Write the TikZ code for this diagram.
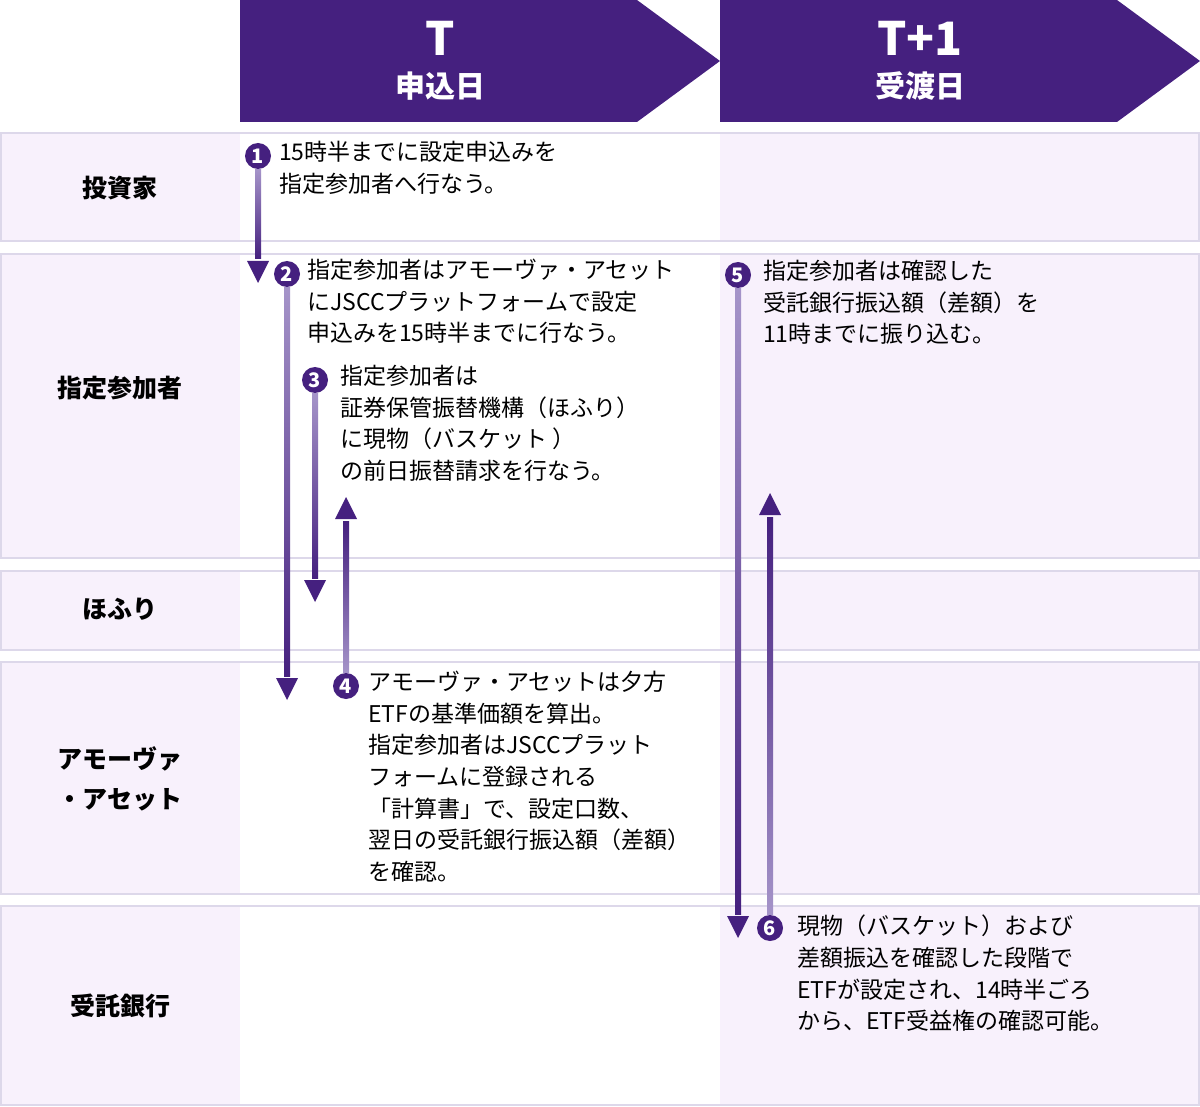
\documentclass[tikz,border=0pt]{standalone}
\usepackage{fontspec}
\setmainfont{Noto Sans CJK JP}
\usetikzlibrary{calc}
\definecolor{dp}{HTML}{45207F}
\definecolor{lp}{HTML}{A594C9}
\definecolor{bg}{HTML}{F8F1FC}
\definecolor{ln}{HTML}{DDD8EA}
\tikzset{
 hdr/.style={fill=dp,draw=none},
 lane/.style={draw=ln,line width=2pt},
 num/.style={circle,fill=dp,text=white,inner sep=0pt,minimum size=26pt,font=\fontsize{20}{20}\selectfont\bfseries},
 txt/.style={anchor=north west,inner sep=0pt,align=left,font=\fontsize{23}{31.6}\selectfont},
 lbl/.style={align=center,font=\fontsize{25}{40}\selectfont\bfseries},
 head/.style={fill=dp,draw=none}
}
\newcommand{\gdown}[2]{%
 \shade[top color=lp,bottom color=dp] ($(#1)+(-3,0)$) rectangle ($(#2)+(3,-24)$);
 \fill[dp] ($(#2)+(-11,-22)$) -- ($(#2)+(11,-22)$) -- (#2) -- cycle;}
\newcommand{\gup}[2]{%
 \shade[top color=dp,bottom color=lp] ($(#2)+(-3,24)$) rectangle ($(#1)+(3,0)$);
 \fill[dp] ($(#2)+(-11,22)$) -- ($(#2)+(11,22)$) -- (#2) -- cycle;}
\begin{document}
\begin{tikzpicture}[x=1pt,y=-1pt]
\useasboundingbox (0,0) rectangle (1200,1107);
% headers
\fill[hdr] (240,0) -- (637,0) -- (720,61) -- (637,122) -- (240,122) -- cycle;
\fill[hdr] (720,0) -- (1117,0) -- (1200,61) -- (1117,122) -- (720,122) -- cycle;
\node[text=white,font=\fontsize{46}{46}\selectfont\bfseries] (hT) at (440,38) {T};
\node[text=white,font=\fontsize{30}{30}\selectfont\bfseries] (hTd) at (440,86) {申込日};
\node[text=white,font=\fontsize{46}{46}\selectfont\bfseries] (hT1) at (920,38) {T+1};
\node[text=white,font=\fontsize{30}{30}\selectfont\bfseries] (hT1d) at (920,86) {受渡日};
% lanes
\foreach \a/\b in {133/241,254/558,571/650,662/894,906/1105}{
 \fill[bg] (1,\a) rectangle (240,\b);
 \fill[white] (240,\a) rectangle (720,\b);
 \fill[bg] (720,\a) rectangle (1199,\b);
 \draw[lane] (1,\a) rectangle (1199,\b);
}
\node[lbl] (L1) at (120,188) {投資家};
\node[lbl] (L2) at (120,388) {指定参加者};
\node[lbl] (L3) at (120,609) {ほふり};
\node[lbl] (L4) at (120,779) {アモーヴァ\\・アセット};
\node[lbl] (L5) at (120,1006) {受託銀行};
% numbers
\node[num] (n1) at (258,156) {1};
\node[num] (n2) at (287,274) {2};
\node[num] (n3) at (315,380) {3};
\node[num] (n4) at (346,686) {4};
\node[num] (n5) at (738,275) {5};
\node[num] (n6) at (770,928) {6};
\coordinate (e1) at (258,283);
\coordinate (e2) at (287,700);
\coordinate (e3) at (315,602);
\coordinate (e4) at (346,497);
\coordinate (e5) at (738,938);
\coordinate (e6) at (770,493);
\gdown{n1.south}{e1}
\gdown{n2.south}{e2}
\gdown{n3.south}{e3}
\gup{n4.north}{e4}
\gdown{n5.south}{e5}
\gup{n6.north}{e6}
% texts
\node[txt] (t1) at (279,141) {15時半までに設定申込みを\\指定参加者へ行なう。};
\node[txt] (t2) at (307,259) {指定参加者はアモーヴァ・アセット\\にJSCCプラットフォームで設定\\申込みを15時半までに行なう。};
\node[txt] (t3) at (340,365) {指定参加者は\\証券保管振替機構（ほふり）\\に現物（バスケット ）\\の前日振替請求を行なう。};
\node[txt] (t4) at (368,671) {アモーヴァ・アセットは夕方\\ETFの基準価額を算出。\\指定参加者はJSCCプラット\\フォームに登録される\\「計算書」で、設定口数、\\翌日の受託銀行振込額（差額）\\を確認。};
\node[txt] (t5) at (763,260) {指定参加者は確認した\\受託銀行振込額（差額）を\\11時までに振り込む。};
\node[txt] (t6) at (797,915) {現物（バスケット）および\\差額振込を確認した段階で\\ETFが設定され、14時半ごろ\\から、ETF受益権の確認可能。};
\end{tikzpicture}
\end{document}
